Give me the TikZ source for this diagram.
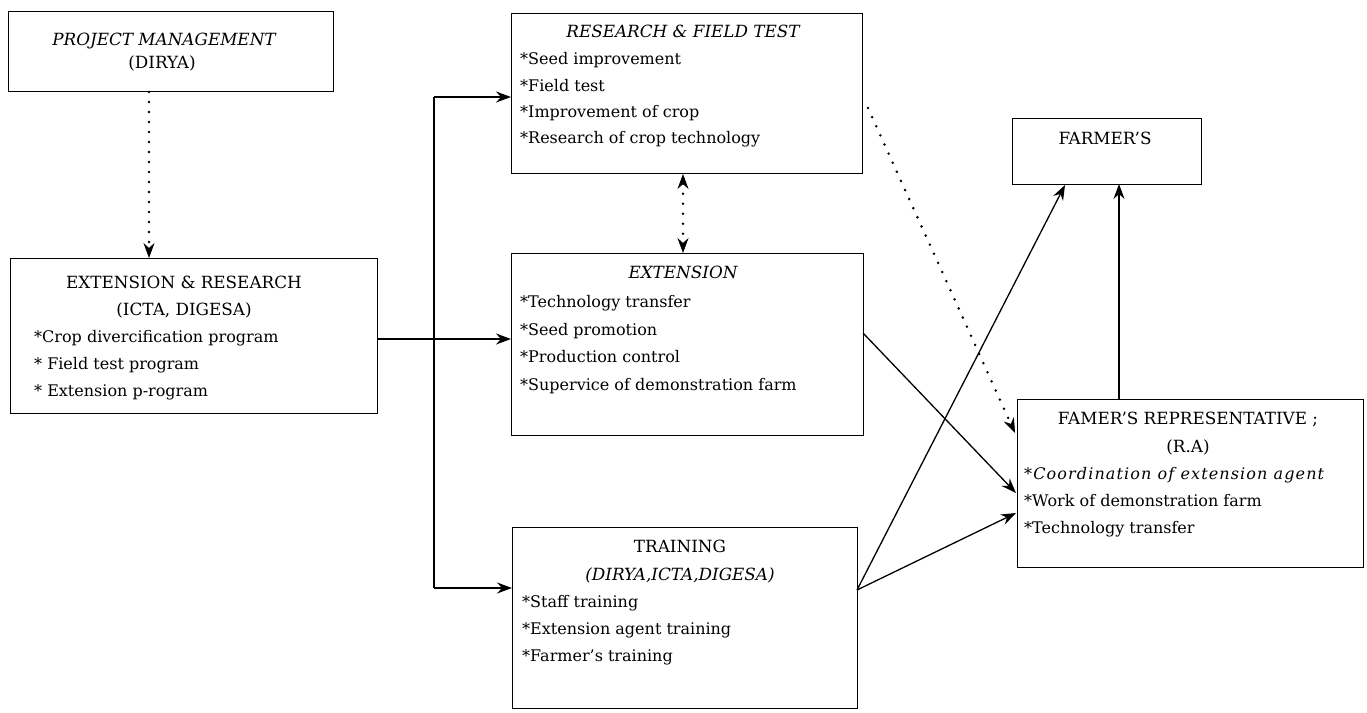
\documentclass[tikz,border=0pt]{standalone}
\usepackage{fontspec}
\setmainfont{DejaVu Serif}
\newfontfamily\widefont[LetterSpace=7]{DejaVu Serif}
\usetikzlibrary{arrows.meta}
\newcommand\dfsize{\fontsize{16pt}{19pt}\selectfont}
\newcommand\hfsize{\fontsize{16.8pt}{19pt}\selectfont}
\begin{document}
\begin{tikzpicture}[x=1pt,y=-1pt,
  box/.style={draw, line width=1.3pt, inner sep=0pt, anchor=north west},
  hd/.style={anchor=mid, inner sep=0pt, font=\hfsize},
  hdi/.style={anchor=mid, inner sep=0pt, font=\hfsize\itshape},
  bl/.style={anchor=mid west, inner sep=0pt, font=\dfsize},
  ln/.style={line width=1.3pt},
  tip/.style={},
  arr/.style={line width=1.3pt, -{Stealth[length=15pt,width=11pt,inset=5pt]}},
  dots/.style={line width=2.8pt, dash pattern=on 0pt off 10pt, line cap=round},
  dotarr/.style={dots, -{Stealth[length=15pt,width=11pt,inset=5pt,line width=0.6pt]}},
  dotdarr/.style={dots, {Stealth[length=15pt,width=11pt,inset=5pt,line width=0.6pt]}-{Stealth[length=15pt,width=11pt,inset=5pt,line width=0.6pt]}}
]
\useasboundingbox (0,0) rectangle (1367,712);

% boxes
\node[box, minimum width=325pt, minimum height=80pt] (pm) at (8,11) {};
\node[box, minimum width=367pt, minimum height=155pt] (er) at (10,258) {};
\node[box, minimum width=351pt, minimum height=160pt] (rft) at (511,13) {};
\node[box, minimum width=352pt, minimum height=182pt] (ext) at (511,253) {};
\node[box, minimum width=345pt, minimum height=181pt] (trn) at (512,527) {};
\node[box, minimum width=189pt, minimum height=66pt] (frm) at (1012,118) {};
\node[box, minimum width=346pt, minimum height=168pt] (fr) at (1017,399) {};

% texts
\node[hdi] (pm1) at (164,43) {PROJECT MANAGEMENT};
\node[hd] (pm2) at (162,66) {(DIRYA)};

\node[hd] (er1) at (184,286) {EXTENSION \& RESEARCH};
\node[hd] (er2) at (184,313) {(ICTA, DIGESA)};
\node[bl] (er3) at (34,340) {*Crop divercification program};
\node[bl] (er4) at (34,367) {* Field test program};
\node[bl] (er5) at (34,394) {* Extension p-rogram};

\node[hdi] (rf1) at (683,35) {RESEARCH \& FIELD TEST};
\node[bl] (rf2) at (520,62) {*Seed improvement};
\node[bl] (rf3) at (520,89) {*Field test};
\node[bl] (rf4) at (520,115) {*Improvement of crop};
\node[bl] (rf5) at (520,141) {*Research of crop technology};

\node[hdi] (ex1) at (683,276) {EXTENSION};
\node[bl] (ex2) at (520,305) {*Technology transfer};
\node[bl] (ex3) at (520,333) {*Seed promotion};
\node[bl] (ex4) at (520,360) {*Production control};
\node[bl] (ex5) at (520,388) {*Supervice of demonstration farm};

\node[hd] (tr1) at (680,550) {TRAINING};
\node[hdi] (tr2) at (680,578) {(DIRYA,ICTA,DIGESA)};
\node[bl] (tr3) at (522,605) {*Staff training};
\node[bl] (tr4) at (522,632) {*Extension agent training};
\node[bl] (tr5) at (522,659) {*Farmer's training};

\node[hd] (fm1) at (1105,142) {FARMER'S};

\node[hd] (fr1) at (1188,422) {FAMER'S REPRESENTATIVE ;};
\node[hd] (fr2) at (1188,450) {(R.A)};
\node[bl, font=\dfsize\widefont\itshape] (fr3) at (1024,477) {*Coordination of extension agent};
\node[bl] (fr4) at (1024,504) {*Work of demonstration farm};
\node[bl] (fr5) at (1024,531) {*Technology transfer};

% connectors
\coordinate (pmo) at (149,92);
\coordinate (eri) at (149,258);
\draw[dotarr] (pmo) -- (eri);

\coordinate (ero) at (377,339);
\coordinate (jt) at (434,97);
\coordinate (jm) at (434,339);
\coordinate (jb) at (434,588);
\draw[ln] (ero) -- (jm);
\draw[ln] (jt) -- (jb);
\draw[arr] (jt) -- (jt -| rft.west);
\draw[arr] (jm) -- (jm -| ext.west);
\draw[arr] (jb) -- (jb -| trn.west);

\coordinate (rfb) at (683,174);
\coordinate (exn) at (683,253);
\draw[dotdarr] (rfb) -- (exn);

\coordinate (rfo) at (868,108);
\coordinate (fri1) at (1015,433);
\draw[dotarr] (rfo) -- (fri1);

\coordinate (exo) at (863,333);
\coordinate (fri2) at (1016,493);
\draw[arr] (exo) -- (fri2);

\coordinate (tro) at (857,590);
\coordinate (fmi1) at (1065,185);
\coordinate (fri3) at (1016,513);
\draw[arr] (tro) -- (fmi1);
\draw[arr] (tro) -- (fri3);

\coordinate (fro) at (1119,399);
\coordinate (fmi2) at (1119,184);
\draw[arr] (fro) -- (fmi2);
\end{tikzpicture}
\end{document}
